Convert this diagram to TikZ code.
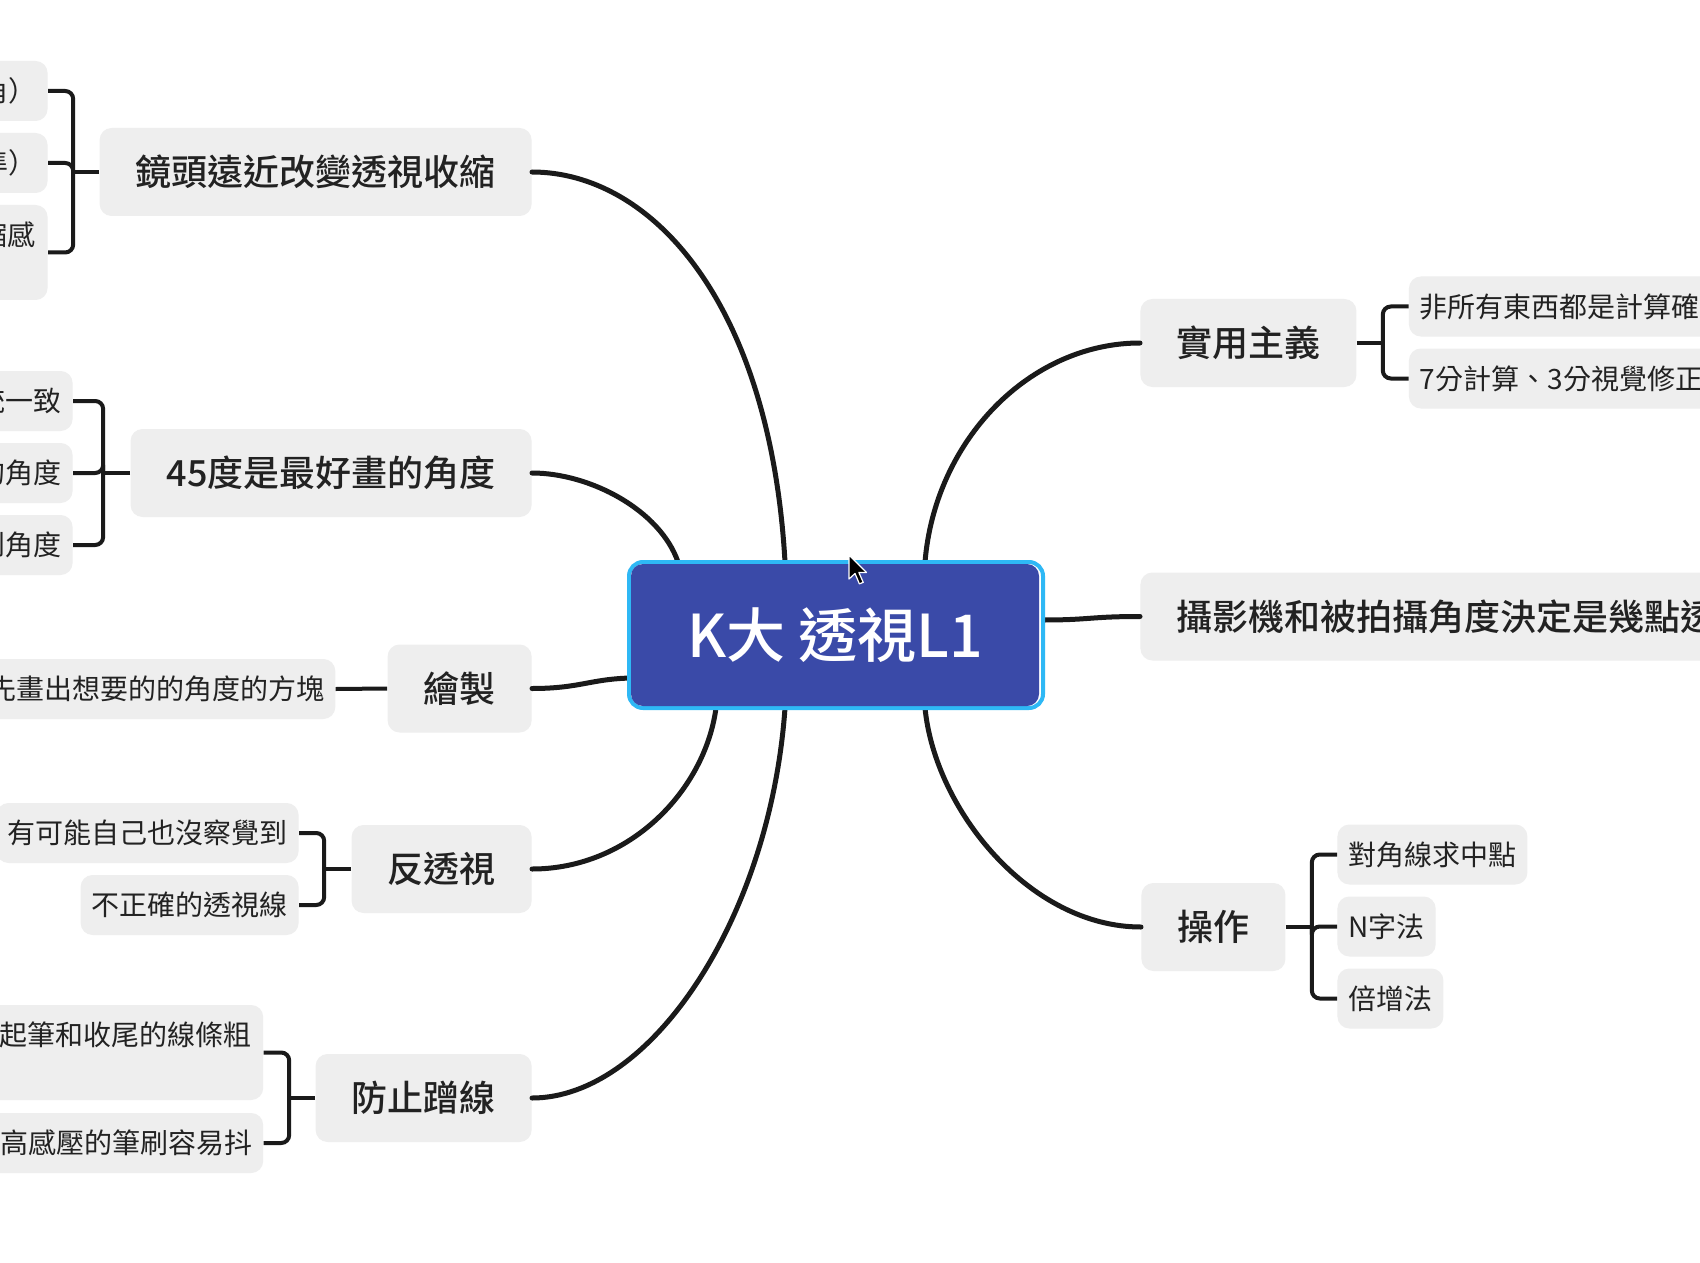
\documentclass[tikz,border=0pt]{standalone}
\usepackage{fontspec}
\setmainfont{Noto Sans CJK TC}[BoldFont={Noto Sans CJK TC Medium}]
\definecolor{boxg}{HTML}{EEEEEE}
\definecolor{lin}{HTML}{1A1A1A}
\definecolor{txt}{HTML}{222222}
\definecolor{cfill}{HTML}{3A4AA8}
\definecolor{bord}{HTML}{2EB8F5}
\begin{document}
\begin{tikzpicture}[x=0.5pt,y=-0.5pt,
  every node/.style={inner sep=0pt, text=txt},
  mainbox/.style={fill=boxg, rounded corners=6pt, font=\fontsize{18pt}{22pt}\selectfont\bfseries, inner xsep=18pt, minimum height=44pt},
  leaf/.style={fill=boxg, rounded corners=6pt, font=\fontsize{14pt}{17.5pt}\selectfont, inner xsep=5.5pt, minimum height=30pt},
  leaftwo/.style={leaf, align=left, minimum height=47.5pt},
  trunk/.style={draw=lin, line width=2.5pt, line cap=round},
  br/.style={draw=lin, line width=2pt, rounded corners=4pt},
]
\useasboundingbox[fill=white] (0,0) rectangle (1700,1262);

% main nodes
\node[mainbox, anchor=east] (L1) at (532,172) {鏡頭遠近改變透視收縮};
\node[mainbox, anchor=east] (L2) at (532,473) {45度是最好畫的角度};
\node[mainbox, anchor=east] (L3) at (532,688.5) {繪製};
\node[mainbox, anchor=east] (L4) at (532,869) {反透視};
\node[mainbox, anchor=east] (L5) at (532,1098) {防止蹭線};
\node[mainbox, anchor=west] (R1) at (1140,343) {實用主義};
\node[mainbox, anchor=west] (R2) at (1140,616.5) {攝影機和被拍攝角度決定是幾點透視};
\node[mainbox, anchor=west] (R3) at (1141,927) {操作};

% leaves left
\node[leaf, anchor=east] (L1a) at (48,91) {近距離拍攝（廣角）};
\node[leaf, anchor=east] (L1b) at (48,163) {中距離拍攝（標準）};
\node[leaftwo, anchor=east, text width=126.5pt] (L1c) at (48,252.5) {遠距離拍攝有壓縮感\\（長焦）};
\node[leaf, anchor=east] (L2a) at (73,401) {兩個面的透視統一致};
\node[leaf, anchor=east] (L2b) at (73,473) {最容易理解的角度};
\node[leaf, anchor=east] (L2c) at (73,545) {最容易抓到角度};
\node[leaf, anchor=east] (L3a) at (335.7,689) {首先畫出想要的的角度的方塊};
\node[leaf, anchor=east] (L4a) at (299,833) {有可能自己也沒察覺到};
\node[leaf, anchor=east] (L4b) at (299,905) {不正確的透視線};
\node[leaftwo, anchor=east, text width=168.5pt] (L5a) at (263.6,1052.5) {要注意起筆和收尾的線條粗\\細};
\node[leaf, anchor=east] (L5b) at (263.6,1143) {使用高感壓的筆刷容易抖};

% leaves right
\node[leaf, anchor=west] (R1a) at (1408.5,306.5) {非所有東西都是計算確定的};
\node[leaf, anchor=west] (R1b) at (1408.5,378.5) {7分計算、3分視覺修正};
\node[leaf, anchor=west] (R3a) at (1337,854.5) {對角線求中點};
\node[leaf, anchor=west] (R3b) at (1337,926.5) {N字法};
\node[leaf, anchor=west] (R3c) at (1337,998.5) {倍增法};

% brackets
\draw[br] (L1.west) -- ++(-26,0) coordinate (j1);
\foreach \n in {L1a,L1b,L1c} \draw[br] (\n.east) -| (j1);
\draw[br] (L2.west) -- ++(-27,0) coordinate (j2);
\foreach \n in {L2a,L2b,L2c} \draw[br] (\n.east) -| (j2);
\draw[br] (L3a.east) -- (L3.west);
\draw[br] (L4.west) -- ++(-27,0) coordinate (j4);
\foreach \n in {L4a,L4b} \draw[br] (\n.east) -| (j4);
\draw[br] (L5.west) -- ++(-26,0) coordinate (j5);
\foreach \n in {L5a,L5b} \draw[br] (\n.east) -| (j5);
\draw[br] (R1.east) -- ++(26,0) coordinate (k1);
\foreach \n in {R1a,R1b} \draw[br] (\n.west) -| (k1);
\draw[br] (R3.east) -- ++(26,0) coordinate (k3);
\foreach \n in {R3a,R3b,R3c} \draw[br] (\n.west) -| (k3);

% trunk ends on the central node
\coordinate (t1) at (785,562);
\coordinate (t2) at (678,562);
\coordinate (t3) at (925,562);
\coordinate (w1) at (631,678);
\coordinate (e1) at (1043,620);
\coordinate (b1) at (716,708);
\coordinate (b2) at (785,708);
\coordinate (b3) at (925,708);

\draw[trunk] (L1.east) .. controls (650,172) and (770,300) .. (t1);
\draw[trunk] (L2.east) .. controls (590,473) and (660,510) .. (t2);
\draw[trunk] (L3.east) .. controls (580,688.5) and (590,679) .. (w1);
\draw[trunk] (L4.east) .. controls (630,869) and (705,790) .. (b1);
\draw[trunk] (L5.east) .. controls (650,1098) and (770,920) .. (b2);
\draw[trunk] (R1.west) .. controls (1030,343) and (935,440) .. (t3);
\draw[trunk] (R2.west) .. controls (1090,616.5) and (1090,620) .. (e1);
\draw[trunk] (R3.west) .. controls (1030,927) and (935,810) .. (b3);

% central node
\node[draw=bord, line width=2pt, fill=white, rounded corners=7pt, minimum width=207pt, minimum height=73pt] (cb) at (836,635) {};
\node[fill=cfill, rounded corners=6pt, minimum width=204pt, minimum height=71pt, text=white, font=\fontsize{29.5pt}{33pt}\selectfont\bfseries] (c) at (835,635) {K大 透視L1};

% mouse cursor
\filldraw[fill=black, draw=white, line width=0.6pt, line join=round] (849,555) -- ++(0,24) -- ++(6,-5.5) -- ++(4.4,10.4) -- ++(3.8,-1.6) -- ++(-4.4,-9.9) -- ++(7.7,0) -- cycle;
\end{tikzpicture}
\end{document}
